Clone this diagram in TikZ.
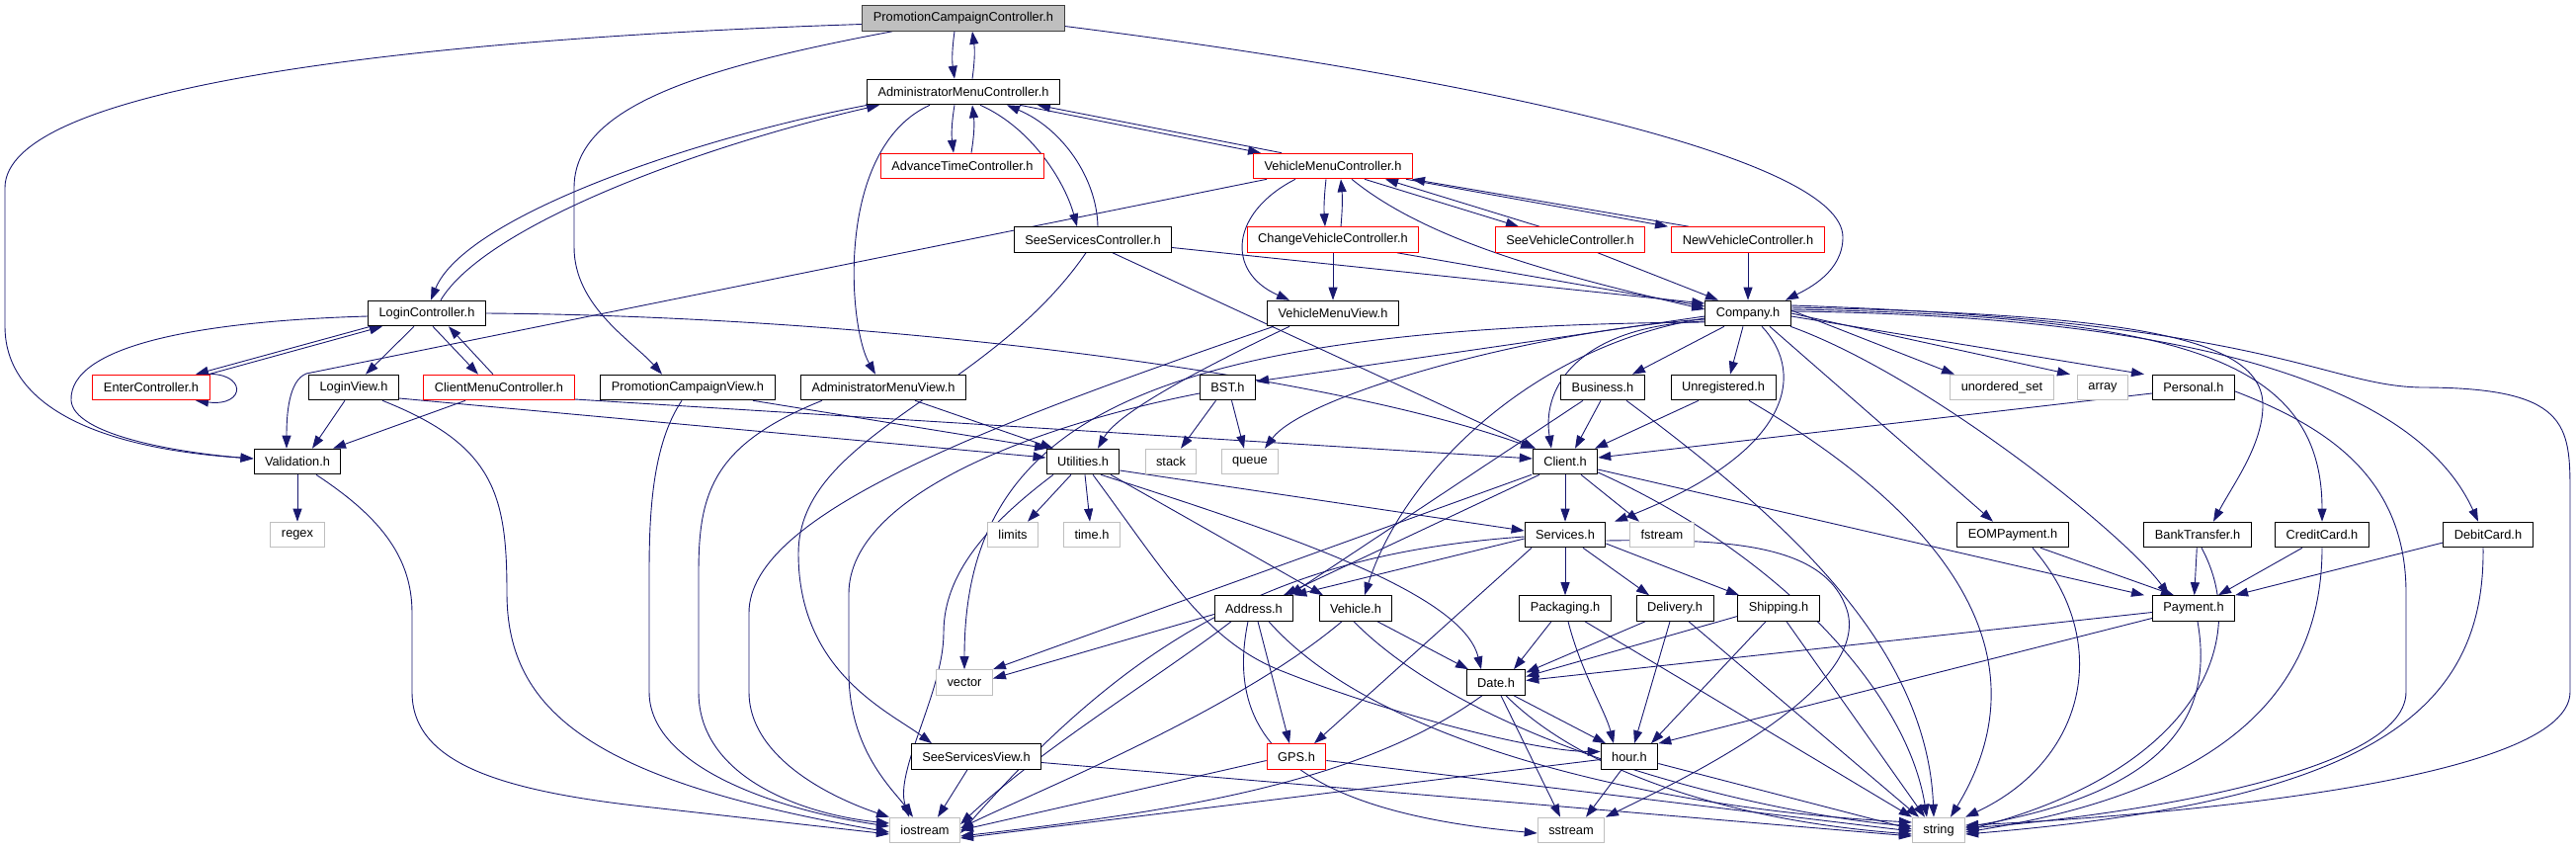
\documentclass[tikz,border=0pt]{standalone}
\usepackage{fontspec}
\setmainfont{Liberation Sans}
\usetikzlibrary{arrows.meta,backgrounds}
\definecolor{edgeblue}{HTML}{191970}
\definecolor{sysgray}{HTML}{BFBFBF}
\tikzset{
  hfile/.style={draw=black, fill=white, line width=1pt, minimum height=25.6pt,
    inner xsep=11pt, inner ysep=0pt, font=\fontsize{12.8}{15}\selectfont},
  trunc/.style={hfile, draw=red},
  sysfile/.style={hfile, draw=sysgray},
  root/.style={hfile, fill=sysgray, draw=black!75},
  edge/.style={draw=edgeblue, line width=0.9pt, ->}
}
\begin{document}
\begin{tikzpicture}[x=1pt, y=-1pt, >={Triangle[length=13pt,width=9pt]}]
  \useasboundingbox (0,0) rectangle (2607,859);

  \node[root] (pcc) at (975,18.5) {PromotionCampaignController.h};
  \node[hfile] (amc) at (975,93) {AdministratorMenuController.h};
  \node[trunc] (atc) at (974,168) {AdvanceTimeController.h};
  \node[trunc] (vmc) at (1349,168) {VehicleMenuController.h};
  \node[hfile] (ssc) at (1106,242.5) {SeeServicesController.h};
  \node[trunc] (cvc) at (1349,242.5) {ChangeVehicleController.h};
  \node[trunc] (svc) at (1589,242.5) {SeeVehicleController.h};
  \node[trunc] (nvc) at (1769,242.5) {NewVehicleController.h};
  \node[hfile] (login) at (432,317) {LoginController.h};
  \node[hfile] (vmv) at (1349,317) {VehicleMenuView.h};
  \node[hfile] (company) at (1769,317) {Company.h};
  \node[trunc] (enter) at (153,392) {EnterController.h};
  \node[hfile] (lview) at (358,392) {LoginView.h};
  \node[trunc] (cmc) at (505,392) {ClientMenuController.h};
  \node[hfile] (pcv) at (696,392) {PromotionCampaignView.h};
  \node[hfile] (amv) at (894,392) {AdministratorMenuView.h};
  \node[hfile] (bst) at (1242.5,392) {BST.h};
  \node[hfile] (business) at (1622,392) {Business.h};
  \node[hfile] (unreg) at (1744,392) {Unregistered.h};
  \node[sysfile] (uset) at (2026,392) {unordered\_set};
  \node[sysfile] (array) at (2128,392) {array};
  \node[hfile] (personal) at (2220,392) {Personal.h};
  \node[hfile] (valid) at (301,467) {Validation.h};
  \node[hfile] (util) at (1096,467) {Utilities.h};
  \node[sysfile] (stack) at (1185,467) {stack};
  \node[sysfile] (queue) at (1265,467) {queue};
  \node[hfile] (client) at (1584,467) {Client.h};
  \node[sysfile] (regex) at (301,541) {regex};
  \node[sysfile] (limits) at (1025,541) {limits};
  \node[sysfile] (timeh) at (1105,541) {time.h};
  \node[hfile] (services) at (1584,541) {Services.h};
  \node[sysfile] (fstream) at (1682,541) {fstream};
  \node[hfile] (eom) at (2037,541) {EOMPayment.h};
  \node[hfile] (bank) at (2224,541) {BankTransfer.h};
  \node[hfile] (credit) at (2350,541) {CreditCard.h};
  \node[hfile] (debit) at (2518,541) {DebitCard.h};
  \node[hfile] (address) at (1269,615.5) {Address.h};
  \node[hfile] (vehicle) at (1372,615.5) {Vehicle.h};
  \node[hfile] (packaging) at (1584,615.5) {Packaging.h};
  \node[hfile] (delivery) at (1695,615.5) {Delivery.h};
  \node[hfile] (shipping) at (1800,615.5) {Shipping.h};
  \node[hfile] (payment) at (2220,615.5) {Payment.h};
  \node[sysfile] (vector) at (976,690.5) {vector};
  \node[hfile] (date) at (1514,690.5) {Date.h};
  \node[hfile] (ssview) at (988,765.5) {SeeServicesView.h};
  \node[trunc] (gps) at (1312,765.5) {GPS.h};
  \node[hfile] (hour) at (1649,765.5) {hour.h};
  \node[sysfile] (iostream) at (936,840) {iostream};
  \node[sysfile] (sstream) at (1590,840) {sstream};
  \node[sysfile] (string) at (1962,840) {string};

  \begin{scope}[on background layer]
  % controllers
  \draw[edge] ([xshift=-9pt]pcc.south) to[bend right=8] ([xshift=-9pt]amc.north);
  \draw[edge] ([xshift=9pt]amc.north) to[bend right=8] ([xshift=9pt]pcc.south);
  \draw[edge] ([xshift=-9pt]amc.south) to[bend right=8] ([xshift=-9pt]atc.north);
  \draw[edge] ([xshift=9pt]atc.north) to[bend right=8] ([xshift=9pt]amc.south);
  \draw[edge] ([yshift=-6pt]pcc.west) .. controls (400,40) and (5,90) .. (5,190) -- (5,330) .. controls (5,420) and (120,455) .. ([yshift=3pt]valid.west);
  \draw[edge] ([xshift=-72pt]pcc.south) .. controls (700,70) and (581,110) .. (581,190) -- (581,250) .. controls (581,310) and (640,345) .. ([xshift=-26pt]pcv.north);
  \draw[edge] ([yshift=-8pt]pcc.east) .. controls (1500,80) and (1865,160) .. (1865,240) .. controls (1865,275) and (1830,292) .. ([xshift=38pt]company.north);
  \draw[edge] ([xshift=-97pt]amc.south) .. controls (700,140) and (470,220) .. ([xshift=4pt]login.north);
  \draw[edge] ([xshift=14pt]login.north) .. controls (490,230) and (700,150) .. ([xshift=-85pt]amc.south);
  \draw[edge] ([xshift=57pt]amc.south) -- ([xshift=-73pt]vmc.north);
  \draw[edge] ([xshift=-52pt]vmc.north) -- ([xshift=75pt]amc.south);
  \draw[edge] ([xshift=17pt]amc.south) .. controls (1045,130) and (1078,185) .. ([xshift=-16pt]ssc.north);
  \draw[edge] ([xshift=5pt]ssc.north) .. controls (1110,180) and (1075,130) .. ([xshift=44pt]amc.south);
  \draw[edge] ([xshift=-34pt]amc.south) .. controls (845,150) and (858,330) .. ([xshift=-8pt]amv.north);
  \draw[edge] ([xshift=-7pt]vmc.south) to[bend right=5] ([xshift=-8pt]cvc.north);
  \draw[edge] ([xshift=8pt]cvc.north) to[bend right=5] ([xshift=8pt]vmc.south);
  \draw[edge] ([xshift=32pt]vmc.south) -- ([xshift=-52pt]svc.north);
  \draw[edge] ([xshift=-31pt]svc.north) -- ([xshift=53pt]vmc.south);
  \draw[edge] ([xshift=74pt]vmc.south) -- ([xshift=-81pt]nvc.north);
  \draw[edge] ([xshift=-60pt]nvc.north) -- ([xshift=80pt]vmc.south);
  \draw[edge] ([xshift=-67pt]vmc.south) -- (310,378) .. controls (292,385) and (290,420) .. ([xshift=-11pt]valid.north);
  \draw[edge] ([xshift=-38pt]vmc.south) .. controls (1245,215) and (1240,275) .. ([xshift=-44pt]vmv.north);
  \draw[edge] ([xshift=19pt]vmc.south) .. controls (1440,240) and (1560,275) .. ([yshift=4pt]company.west);
  \draw[edge] (cvc) -- (vmv);
  \draw[edge] ([xshift=65pt]cvc.south) -- ([yshift=7pt]company.west);
  \draw[edge] ([yshift=-8pt]ssc.east) -- ([yshift=10pt]company.west);
  \draw[edge] ([xshift=28pt]svc.south) -- ([xshift=-30pt]company.north);
  \draw[edge] (nvc) -- (company);
  \draw[edge] ([xshift=20pt]ssc.south) -- ([xshift=-30pt]client.north);
  \draw[edge] ([xshift=-7pt]ssc.south) .. controls (1000,400) and (808,440) .. (808,560) .. controls (808,680) and (900,720) .. ([xshift=-45pt]ssview.north);
  \draw[edge] ([xshift=-57pt]login.south) -- ([xshift=45pt]enter.north);
  \draw[edge] ([xshift=58pt]enter.north) -- ([xshift=-45pt]login.south);
  \draw[edge] ([xshift=53pt]enter.north) .. controls (250,375) and (250,412) .. ([xshift=45pt]enter.south);
  \draw[edge] ([xshift=-13pt]login.south) -- ([xshift=12pt]lview.north);
  \draw[edge] ([xshift=6pt]login.south) -- ([xshift=-21pt]cmc.north);
  \draw[edge] ([xshift=-6pt]cmc.north) -- ([xshift=22pt]login.south);
  \draw[edge] ([yshift=-3pt]login.west) .. controls (200,325) and (70,350) .. (72,405) .. controls (74,440) and (180,458) .. ([yshift=3pt]valid.west);
  \draw[edge] (login.east) .. controls (900,320) and (1350,380) .. ([xshift=-32pt]client.north);
  % views
  \draw[edge] ([xshift=-9pt]lview.south) -- ([xshift=15pt]valid.north);
  \draw[edge] ([yshift=-11pt]lview.east) -- ([yshift=4pt]util.west);
  \draw[edge] ([xshift=29pt]lview.south) .. controls (500,450) and (513,500) .. (513,600) .. controls (513,720) and (600,790) .. ([yshift=-2pt]iostream.west);
  \draw[edge] ([xshift=-34pt]cmc.south) -- ([xshift=36pt]valid.north);
  \draw[edge] ([yshift=-12pt]cmc.east) -- ([yshift=3pt]client.west);
  \draw[edge] (valid) -- (regex);
  \draw[edge] ([xshift=19pt]valid.south) .. controls (380,520) and (417,560) .. (417,620) -- (417,700) .. controls (417,770) and (500,800) .. (660,817) -- ([yshift=-4pt]iostream.west);
  \draw[edge] ([xshift=66pt]pcv.south) -- ([xshift=-36pt]util.north);
  \draw[edge] ([xshift=-6pt]pcv.south) .. controls (660,450) and (657,520) .. (657,580) -- (657,700) .. controls (657,780) and (800,822) .. ([yshift=4pt]iostream.west);
  \draw[edge] ([xshift=32pt]amv.south) -- ([xshift=-30pt]util.north);
  \draw[edge] ([xshift=-62pt]amv.south) .. controls (720,450) and (707,500) .. (707,580) -- (707,700) .. controls (707,790) and (820,825) .. ([yshift=7pt]iostream.west);
  \draw[edge] ([xshift=-44pt]vmv.south) .. controls (1200,380) and (1130,420) .. ([xshift=15pt]util.north);
  \draw[edge] ([xshift=-60pt]vmv.south) .. controls (1000,430) and (758,520) .. (758,620) -- (758,700) .. controls (758,770) and (850,810) .. (iostream.north west);
  \draw[edge] ([xshift=-12pt]bst.south) -- ([xshift=10pt]stack.north);
  \draw[edge] ([xshift=4pt]bst.south) -- ([xshift=-6pt]queue.north);
  \draw[edge] ([yshift=-6pt]bst.west) .. controls (1050,430) and (860,500) .. (859,600) -- (859,680) .. controls (859,760) and (905,800) .. ([xshift=-12pt]iostream.north);
  % utilities
  \draw[edge] ([xshift=-12pt]util.south) -- ([xshift=15pt]limits.north);
  \draw[edge] ([xshift=2pt]util.south) -- ([xshift=-2pt]timeh.north);
  \draw[edge] ([yshift=-9pt]util.east) -- ([yshift=4pt]services.west);
  \draw[edge] ([xshift=28pt]util.south) -- ([xshift=-33pt]vehicle.north);
  \draw[edge] ([xshift=18pt]util.south) .. controls (1300,540) and (1480,600) .. ([xshift=-15pt]date.north);
  \draw[edge] ([xshift=10pt]util.south) .. controls (1180,580) and (1220,650) .. (1300,680) .. controls (1400,720) and (1550,760) .. ([yshift=5pt]hour.west);
  \draw[edge] ([xshift=-30pt]util.south) .. controls (1000,530) and (955,580) .. (955,640) .. controls (955,700) and (905,780) .. ([xshift=-16pt]iostream.north);
  % company
  \draw[edge] ([yshift=-3pt]company.west) -- ([yshift=6pt]bst.east);
  \draw[edge] ([yshift=-6pt]company.west) .. controls (1550,335) and (1320,400) .. ([xshift=15pt]queue.north);
  \draw[edge] ([yshift=-9pt]company.west) .. controls (1150,330) and (976,430) .. (vector.north);
  \draw[edge] ([yshift=-5pt]company.west) .. controls (1550,350) and (1420,480) .. ([xshift=9pt]vehicle.north);
  \draw[edge] ([yshift=-8pt]company.west) .. controls (1600,330) and (1560,390) .. ([xshift=-14pt]client.north);
  \draw[edge] ([xshift=-24pt]company.south) -- ([xshift=30pt]business.north);
  \draw[edge] ([xshift=-5pt]company.south) -- ([xshift=7pt]unreg.north);
  \draw[edge] ([xshift=14pt]company.south) .. controls (1830,380) and (1810,460) .. ([xshift=50pt]services.north);
  \draw[edge] ([yshift=3pt]company.east) -- ([xshift=-48pt]uset.north);
  \draw[edge] (company.east) -- ([xshift=-33pt]array.north);
  \draw[edge] ([yshift=-3pt]company.east) -- ([xshift=-50pt]personal.north);
  \draw[edge] ([xshift=22pt]company.south) -- ([xshift=-20pt]eom.north);
  \draw[edge] ([xshift=43pt]company.south) .. controls (1950,380) and (2150,540) .. ([xshift=-25pt]payment.north);
  \draw[edge] ([yshift=6pt]company.east) .. controls (2150,318) and (2290,340) .. (2290,410) .. controls (2290,450) and (2260,490) .. ([xshift=16pt]bank.north);
  \draw[edge] ([yshift=4pt]company.east) .. controls (2200,320) and (2350,360) .. (credit.north);
  \draw[edge] ([yshift=2pt]company.east) .. controls (2250,320) and (2450,400) .. ([xshift=-10pt]debit.north);
  \draw[edge] ([yshift=8pt]company.east) .. controls (2300,325) and (2350,390) .. (2450,392) .. controls (2600,392) and (2601,430) .. (2601,500) -- (2601,700) .. controls (2601,800) and (2100,830) .. ([yshift=5pt]string.east);
  % clients
  \draw[edge] ([xshift=-20pt]business.south) -- ([xshift=36pt]address.north);
  \draw[edge] ([xshift=-2pt]business.south) -- ([xshift=10pt]client.north);
  \draw[edge] ([xshift=24pt]business.south) .. controls (1800,520) and (1950,650) .. ([xshift=-5pt]string.north);
  \draw[edge] ([xshift=-25pt]unreg.south) -- ([xshift=30pt]client.north);
  \draw[edge] ([xshift=26pt]unreg.south) .. controls (1880,470) and (2100,620) .. ([xshift=12pt]string.north);
  \draw[edge] ([yshift=-6pt]personal.west) -- ([yshift=4pt]client.east);
  \draw[edge] ([yshift=-4pt]personal.east) .. controls (2350,430) and (2435,480) .. (2435,600) -- (2435,700) .. controls (2435,790) and (2100,830) .. ([yshift=2pt]string.east);
  \draw[edge] (client) -- (services);
  \draw[edge] ([xshift=16pt]client.south) -- ([xshift=-23pt]fstream.north);
  \draw[edge] ([xshift=-34pt]client.south) -- (vector.north east);
  \draw[edge] ([xshift=-26pt]client.south) -- ([xshift=30pt]address.north);
  \draw[edge] ([yshift=-8pt]client.east) -- ([xshift=-50pt]payment.north);
  \draw[edge] ([yshift=-11pt]client.east) .. controls (1800,560) and (1930,700) .. ([xshift=-12pt]string.north);
  % services
  \draw[edge] ([yshift=-4pt]services.west) -- (address.north east);
  \draw[edge] ([xshift=-34pt]services.south) -- ([xshift=18pt]gps.north);
  \draw[edge] (services) -- (packaging);
  \draw[edge] ([xshift=18pt]services.south) -- ([xshift=-26pt]delivery.north);
  \draw[edge] ([yshift=-9pt]services.east) -- ([xshift=-40pt]shipping.north);
  \draw[edge] ([yshift=-6pt]services.east) .. controls (1750,545) and (1850,550) .. (1870,620) .. controls (1890,700) and (1700,790) .. ([xshift=35pt]sstream.north);
  \draw[edge] ([yshift=-2pt]services.west) .. controls (1300,560) and (1150,640) .. ([yshift=-3pt]iostream.east);
  \draw[edge] ([yshift=-6pt]address.west) -- ([yshift=4pt]vector.east);
  \draw[edge] ([xshift=-23pt]address.south) .. controls (1180,680) and (1050,760) .. ([yshift=6pt]iostream.east);
  \draw[edge] ([xshift=4pt]address.south) -- ([xshift=-7pt]gps.north);
  \draw[edge] ([xshift=-6pt]address.south) .. controls (1240,740) and (1300,820) .. ([yshift=-3pt]sstream.west);
  \draw[edge] ([xshift=15pt]address.south) .. controls (1400,760) and (1700,820) .. ([yshift=8pt]string.west);
  \draw[edge] ([xshift=22pt]vehicle.south) -- ([xshift=-28pt]date.north);
  \draw[edge] ([xshift=-14pt]vehicle.south) .. controls (1250,720) and (1050,800) .. ([yshift=2pt]iostream.east);
  \draw[edge] ([xshift=-2pt]vehicle.south) .. controls (1500,760) and (1800,825) .. ([yshift=4pt]string.west);
  \draw[edge] ([xshift=-14pt]packaging.south) -- ([xshift=18pt]date.north);
  \draw[edge] ([xshift=3pt]packaging.south) .. controls (1600,680) and (1625,720) .. ([xshift=-16pt]hour.north);
  \draw[edge] ([xshift=20pt]packaging.south) -- (string.north west);
  \draw[edge] ([xshift=-30pt]delivery.south) -- ([yshift=10pt]date.east);
  \draw[edge] ([xshift=-5pt]delivery.south) -- ([xshift=5pt]hour.north);
  \draw[edge] ([xshift=14pt]delivery.south) -- ([xshift=-20pt]string.north);
  \draw[edge] ([yshift=-8pt]shipping.west) -- ([yshift=6pt]date.east);
  \draw[edge] ([xshift=-13pt]shipping.south) -- ([xshift=22pt]hour.north);
  \draw[edge] ([xshift=8pt]shipping.south) -- ([xshift=-14pt]string.north);
  % payments
  \draw[edge] ([yshift=-4pt]payment.west) -- ([yshift=2pt]date.east);
  \draw[edge] ([yshift=-10pt]payment.west) -- (hour.north east);
  \draw[edge] ([xshift=4pt]payment.south) .. controls (2240,720) and (2200,800) .. ([yshift=3pt]string.east);
  \draw[edge] ([xshift=28pt]eom.south) -- ([xshift=-20pt]payment.north);
  \draw[edge] ([xshift=20pt]eom.south) .. controls (2140,650) and (2110,770) .. (string.north east);
  \draw[edge] (bank) -- (payment);
  \draw[edge] ([xshift=4pt]bank.south) .. controls (2280,650) and (2220,780) .. (string.east);
  \draw[edge] ([xshift=-20pt]credit.south) -- ([xshift=25pt]payment.north);
  \draw[edge] (credit.south) .. controls (2350,700) and (2250,800) .. ([yshift=-2pt]string.east);
  \draw[edge] ([yshift=-8pt]debit.west) -- (payment.north east);
  \draw[edge] ([xshift=-5pt]debit.south) .. controls (2515,720) and (2400,810) .. ([yshift=-4pt]string.east);
  % leaves
  \draw[edge] ([xshift=18pt]date.south) -- ([xshift=-24pt]hour.north);
  \draw[edge] ([xshift=5pt]date.south) -- ([xshift=-11pt]sstream.north);
  \draw[edge] ([xshift=-14pt]date.south) .. controls (1380,790) and (1200,820) .. ([yshift=-6pt]iostream.east);
  \draw[edge] ([xshift=10pt]date.south) .. controls (1600,780) and (1750,830) .. ([yshift=-4pt]string.west);
  \draw[edge] ([yshift=-4pt]gps.west) -- (iostream.east);
  \draw[edge] ([yshift=-4pt]gps.east) -- ([yshift=-1pt]string.west);
  \draw[edge] ([xshift=-8pt]hour.south) -- ([xshift=15pt]sstream.north);
  \draw[edge] ([yshift=-3pt]hour.west) -- ([yshift=-8pt]iostream.east);
  \draw[edge] ([yshift=-7pt]hour.east) -- ([yshift=1pt]string.west);
  \draw[edge] ([xshift=-9pt]ssview.south) -- ([xshift=13pt]iostream.north);
  \draw[edge] ([yshift=-6pt]ssview.east) -- ([yshift=-6pt]string.west);
  \end{scope}
\end{tikzpicture}
\end{document}
